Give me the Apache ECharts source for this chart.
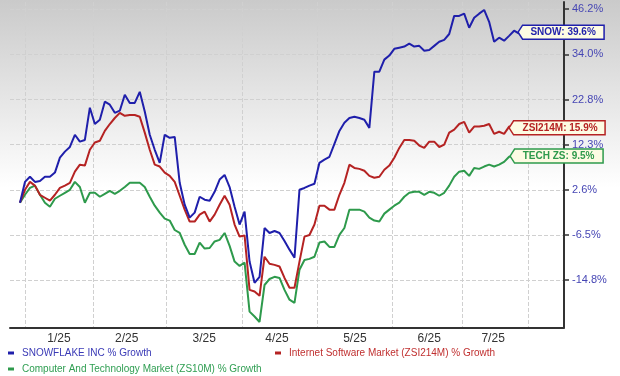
<!DOCTYPE html>
<html>
<head>
<meta charset="utf-8">
<script src="https://cdn.jsdelivr.net/npm/echarts@6/dist/echarts.min.js"></script>
<style>
  html, body { margin: 0; padding: 0; background: #fff; }
  #chart { width: 620px; height: 376px; }
</style>
</head>
<body>
<div id="chart"></div>
<script>
// y axis is not linear: the gridlines are evenly spaced but carry these values
const yTickValues = [-14.8, -6.5, 2.6, 12.3, 22.8, 34.0, 46.2]
const yTickLabels = yTickValues.map(v => v.toFixed(1) + '%')

const monthLabels = ['1/25', '2/25', '3/25', '4/25', '5/25', '6/25', '7/25']
const monthLabelPos = [7.8, 21.4, 36.9, 51.5, 67.1, 82.0, 94.8]
const monthGridPos = [1.0, 14.6, 29.3, 44.5, 59.5, 74.5, 88.6, 101.8]

const snow = [
  0.0, 4.3, 5.4, 4.3, 4.5, 5.4, 5.4, 6.3, 9.5, 10.8,
  11.8, 14.6, 13.0, 13.4, 20.9, 17.1, 18.1, 22.3, 21.6, 19.7,
  20.2, 24.0, 22.0, 22.0, 24.7, 20.0, 14.6, 11.2, 8.4, 14.6,
  13.9, 14.1, 4.1, -0.4, -3.0, -2.0, 1.2, 0.6, 0.4, 2.2,
  4.8, 5.8, 3.2, -0.8, -4.4, -1.8, -11.4, -15.3, -14.2, -5.1,
  -6.1, -5.7, -6.1, -7.6, -9.2, -10.7, 2.6, 3.0, 3.5, 3.9,
  8.4, 9.1, 9.7, 12.5, 15.5, 17.4, 18.5, 18.8, 18.5, 18.1,
  16.2, 29.7, 29.7, 32.7, 33.7, 35.5, 35.8, 36.1, 36.9, 36.1,
  36.3, 35.0, 35.2, 36.3, 37.4, 37.9, 39.5, 44.4, 44.4, 45.0,
  41.2, 43.9, 45.0, 46.0, 42.8, 37.4, 38.5, 37.7, 39.0, 40.4,
  39.6
]
const zsi214m = [
  0.0, 2.6, 4.3, 3.5, 1.6, 1.0, 0.4, 1.6, 3.0, 3.5,
  4.1, 6.5, 8.0, 7.8, 11.2, 12.8, 13.2, 15.5, 17.1, 18.5,
  19.7, 19.0, 19.2, 19.2, 18.8, 15.1, 11.2, 8.0, 7.6, 6.3,
  5.6, 4.3, 1.4, -1.4, -3.8, -3.8, -2.4, -1.8, -3.8, -2.4,
  -0.4, 1.4, -0.4, -4.4, -6.8, -6.6, -16.6, -16.9, -17.7, -10.5,
  -11.8, -12.0, -12.3, -14.4, -16.2, -16.2, -11.4, -6.8, -6.5, -4.4,
  -0.6, -0.6, -1.4, -1.4, 1.6, 4.1, 8.0, 7.3, 7.1, 6.7,
  5.6, 5.2, 5.4, 6.9, 7.8, 9.5, 11.6, 13.4, 13.4, 13.2,
  12.1, 11.6, 13.0, 13.0, 11.8, 12.3, 15.1, 15.8, 17.1, 17.6,
  15.1, 16.5, 16.5, 16.7, 17.1, 14.8, 15.3, 14.8, 16.5, 16.5,
  15.9
]
const techZs = [
  0.0, 1.6, 3.0, 3.5, 1.6, 0.0, -0.8, 0.8, 1.4, 2.0,
  2.6, 4.3, 3.2, 0.0, 2.0, 2.0, 1.2, 1.8, 2.4, 1.8,
  2.4, 3.2, 4.1, 4.1, 4.1, 3.2, 1.2, -0.6, -2.0, -3.2,
  -3.6, -5.5, -6.1, -8.3, -10.0, -10.0, -7.9, -9.0, -8.9, -7.7,
  -7.4, -6.1, -8.5, -11.4, -12.2, -11.6, -20.6, -21.5, -22.5, -15.7,
  -14.6, -14.2, -14.4, -16.6, -18.4, -19.0, -12.9, -11.1, -10.9, -10.5,
  -7.9, -7.7, -8.7, -8.7, -6.5, -5.1, -1.4, -1.4, -1.4, -1.8,
  -3.0, -3.6, -3.8, -2.2, -1.4, -0.6, 0.0, 1.2, 2.0, 2.2,
  2.2, 1.6, 2.2, 2.0, 1.4, 2.0, 3.5, 5.4, 6.5, 6.7,
  5.6, 7.3, 7.1, 7.6, 8.0, 7.6, 8.0, 8.6, 9.7, 9.9,
  9.5
]

// percent -> position on the evenly spaced tick scale
const toU = (p) => {
  const t = yTickValues
  let k = 0
  while (k < t.length - 2 && p > t[k + 1]) k++
  return k + (p - t[k]) / (t[k + 1] - t[k])
}

// tag shaped box, pointer on the left
const calloutPath = (w, h) =>
  `path://M0,${h / 2} L4.5,0 L${w},0 L${w},${h} L4.5,${h} Z`

const makeSeries = (name, values, color, tag, box) => ({
  name,
  type: 'line',
  data: values.map((v, i) => [i, toU(v)]),
  showSymbol: false,
  lineStyle: { color, width: 2 },
  itemStyle: { color },
  markPoint: {
    silent: true,
    symbol: calloutPath(box.w, box.h),
    // square size + keepAspect so the border is not stretched
    symbolSize: [box.w, box.w],
    symbolKeepAspect: true,
    symbolOffset: box.offset,
    itemStyle: { color: '#fdfbe3', borderColor: color, borderWidth: 1.5 },
    label: {
      show: true,
      formatter: `${tag}: ${values[values.length - 1].toFixed(1)}%`,
      color,
      fontWeight: 'bold',
      fontSize: 10,
      fontFamily: 'Liberation Sans, Arial, sans-serif',
      offset: box.textOffset
    },
    data: [{ coord: [values.length - 1, toU(values[values.length - 1])] }]
  }
})

const legendItem = (name, color, left, top) => ({
  data: [name],
  left,
  top,
  icon: 'rect',
  itemWidth: 6,
  itemHeight: 3,
  textStyle: {
    color,
    fontSize: 10,
    fontFamily: 'Liberation Sans, Arial, sans-serif',
    padding: [0, 0, 0, 3]
  }
})

const chart = echarts.init(document.getElementById('chart'))
chart.setOption({
  animation: false,
  backgroundColor: new echarts.graphic.LinearGradient(0, 0, 0, 1, [
    { offset: 0, color: '#cacaca' },
    { offset: 0.5, color: '#ffffff' },
    { offset: 1, color: '#ffffff' }
  ]),
  grid: { left: 10, right: 56, top: 2, bottom: 48.5 },
  legend: [
    legendItem('SNOWFLAKE INC % Growth', '#3a3ab6', 3, 343),
    legendItem('Internet Software Market (ZSI214M) % Growth', '#c03030', 270, 343),
    legendItem('Computer And Technology Market (ZS10M) % Growth', '#2f9e52', 3, 359)
  ],
  xAxis: {
    type: 'value',
    min: -2,
    max: 109,
    axisLine: { onZero: false, lineStyle: { color: '#333', width: 2 } },
    axisTick: { show: false, customValues: monthGridPos },
    axisLabel: {
      customValues: monthLabelPos,
      formatter: (v) => {
        let best = 0
        monthLabelPos.forEach((p, i) => {
          if (Math.abs(p - v) < Math.abs(monthLabelPos[best] - v)) best = i
        })
        return monthLabels[best]
      },
      color: '#333',
      fontSize: 12,
      margin: 5,
      fontFamily: 'Liberation Sans, Arial, sans-serif'
    },
    splitLine: { show: true, lineStyle: { color: '#d0d0d0', type: 'dashed' } }
  },
  yAxis: {
    type: 'value',
    position: 'right',
    min: -1.05,
    max: 6.16,
    axisLine: { show: true, onZero: false, lineStyle: { color: '#333', width: 2 } },
    axisTick: {
      show: true,
      length: 5,
      customValues: yTickValues.map((v, i) => i),
      lineStyle: { color: '#333', width: 1.5 }
    },
    axisLabel: {
      customValues: yTickValues.map((v, i) => i),
      formatter: (v) => yTickLabels[Math.round(v)],
      color: '#4646b4',
      fontSize: 11,
      margin: 8,
      fontFamily: 'Liberation Sans, Arial, sans-serif'
    },
    splitLine: { show: true, lineStyle: { color: '#d0d0d0', type: 'dashed' } }
  },
  series: [
    makeSeries('Computer And Technology Market (ZS10M) % Growth', techZs, '#2e9a4c', 'TECH ZS',
      { w: 93, h: 14, offset: [37.5, -1.6], textOffset: [2, 0] }),
    makeSeries('Internet Software Market (ZSI214M) % Growth', zsi214m, '#b52323', 'ZSI214M',
      { w: 96, h: 14, offset: [38, -1.4], textOffset: [3, 0] }),
    makeSeries('SNOWFLAKE INC % Growth', snow, '#1f1fab', 'SNOW',
      { w: 86, h: 14, offset: [42, -1.5], textOffset: [2, 0] })
  ]
})
</script>
</body>
</html>
